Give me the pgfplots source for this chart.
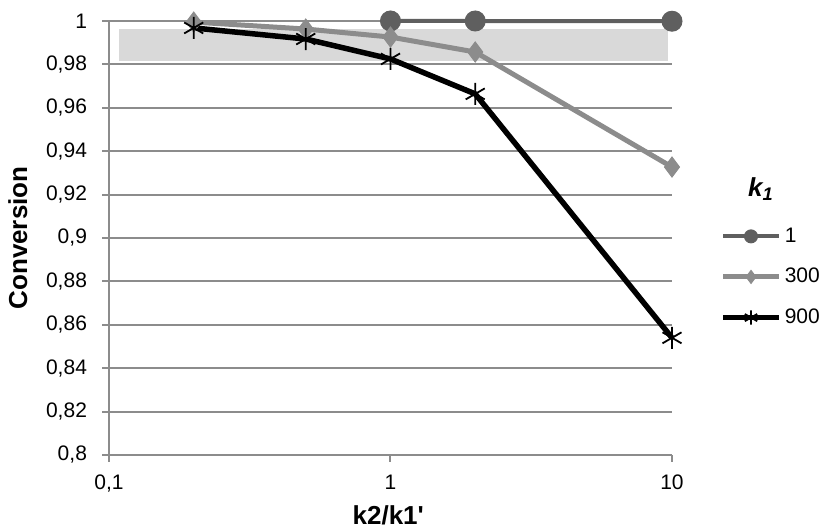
\documentclass[border=0pt]{standalone}
\usepackage{pgfplots}
\pgfplotsset{compat=1.18}
\usepackage{fontspec}
\setmainfont{Liberation Sans}
\definecolor{sone}{HTML}{5F5F5F}
\definecolor{stwo}{HTML}{8C8C8C}
\definecolor{bandc}{HTML}{D9D9D9}
\definecolor{gridc}{HTML}{8C8C8C}
\begin{document}
\begin{tikzpicture}
\useasboundingbox (-54.5pt,-37pt) rectangle (357.5pt,227.5pt);
\begin{axis}[
  at={(0pt,0pt)}, anchor=south west,
  scale only axis, width=281.5pt, height=217pt,
  xmode=log, log basis x=10,
  xmin=0.1, xmax=10, ymin=0.8, ymax=1,
  xtick={0.1,1,10}, xticklabels={{0,1},1,10},
  ytick={0.8,0.82,0.84,0.86,0.88,0.9,0.92,0.94,0.96,0.98,1},
  yticklabels={{0,8},{0,82},{0,84},{0,86},{0,88},{0,9},{0,92},{0,94},{0,96},{0,98},1},
  minor xtick={}, minor x tick num=0,
  axis x line*=bottom, axis y line*=left,
  axis line style={gridc, line width=1pt},
  ymajorgrids, grid style={gridc, line width=1pt},
  tick style={gridc, line width=1pt},
  major tick length=3.5pt, tick align=outside,
  tick label style={font=\fontsize{10.5}{12}\selectfont},
  xticklabel style={yshift=-3pt},
  yticklabel style={xshift=-4pt},
  xlabel={\textbf{k2/k1\textquotesingle}},
  ylabel={\textbf{Conversion}},
  label style={font=\fontsize{13}{15}\selectfont},
  xlabel style={at={(axis description cs:0.496,-0.14)}, anchor=center},
  ylabel style={at={(axis description cs:-0.162,0.5)}, anchor=center},
  clip=false,
  legend style={at={(rel axis cs:1.085,0.534)}, anchor=north west, draw=none, fill=none,
    font=\fontsize{10.5}{13}\selectfont, row sep=7.5pt, inner sep=0pt,
    nodes={inner xsep=1.5pt}},
  legend cell align=left,
  legend image code/.code={\draw[#1, mark repeat=2, mark phase=2, every mark/.append style={scale=0.65}] plot coordinates {(0pt,0pt) (14pt,0pt) (28pt,0pt)};},
]
\addplot[fill=bandc, draw=none, forget plot] coordinates {(0.1088,0.9814) (9.64,0.9814) (9.64,0.9965) (0.1088,0.9965)} -- cycle;
\addplot[sone, line width=2pt, mark=*, mark size=5pt, mark options={solid, fill=sone, draw=sone, line width=0.5pt}]
  coordinates {(1,1.0) (2,1.0) (10,0.9999)};
\addlegendentry{1}
\addplot[stwo, line width=2.5pt, mark=diamond*, mark size=5pt, mark options={solid, fill=stwo, draw=stwo, line width=0.5pt}]
  coordinates {(0.2,0.9995) (0.5,0.9963) (1,0.9926) (2,0.9857) (10,0.9327)};
\addlegendentry{300}
\addplot[black, line width=2.75pt, mark=asterisk, mark size=5.5pt, mark options={solid, draw=black, line width=0.9pt}]
  coordinates {(0.2,0.9968) (0.5,0.9917) (1,0.9825) (2,0.9664) (10,0.854)};
\addlegendentry{900}
\node[font=\bfseries\itshape\fontsize{13}{15}\selectfont] at (rel axis cs:1.158,0.612) {k\textsubscript{1}};
\end{axis}
\end{tikzpicture}
\end{document}
